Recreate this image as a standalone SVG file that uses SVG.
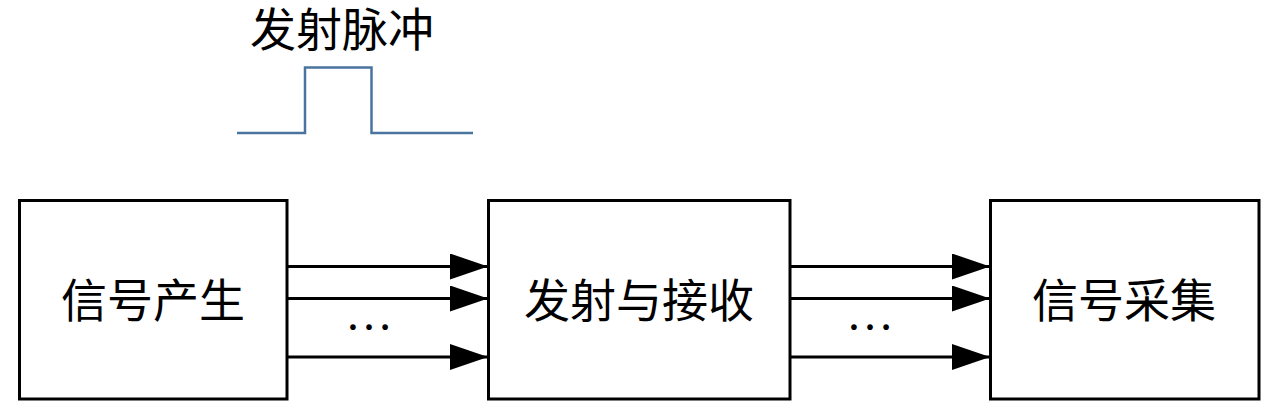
<svg xmlns="http://www.w3.org/2000/svg" width="1280" height="404" viewBox="0 0 1280 404">
<style>
.box{fill:#fff;stroke:#000;stroke-width:3}
.lbl{font-family:"Liberation Serif","Noto Sans CJK SC",serif;font-size:46px;fill:#000;text-anchor:middle}
.conn{stroke:#000;stroke-width:3;fill:none}
.dots{font-family:"Liberation Serif",serif;font-size:48px;fill:#000;text-anchor:middle}
</style>
<defs>
<marker id="arr" markerUnits="userSpaceOnUse" markerWidth="38" markerHeight="26" refX="38" refY="13" orient="auto">
<path d="M0,0 L38,13 L0,26 Z" fill="#000"/>
</marker>
</defs>
<rect width="1280" height="404" fill="#fff"/>
<g id="pulse">
<text class="lbl" x="342" y="46">发射脉冲</text>
<polyline points="237,133 305,133 305,67.5 371.5,67.5 371.5,133 473,133" fill="none" stroke="#4a74a0" stroke-width="2.5"/>
</g>
<g id="gen">
<rect class="box" x="19.5" y="200.5" width="267.5" height="198.5"/>
<text class="lbl" x="153" y="317">信号产生</text>
</g>
<g id="txrx">
<rect class="box" x="488.5" y="200.5" width="301.5" height="198.5"/>
<text class="lbl" x="639" y="317">发射与接收</text>
</g>
<g id="acq">
<rect class="box" x="990.5" y="200.5" width="268.5" height="198.5"/>
<text class="lbl" x="1124" y="317">信号采集</text>
</g>
<g id="connectors">
<line class="conn" x1="287" y1="266.5" x2="488" y2="266.5" marker-end="url(#arr)"/>
<line class="conn" x1="287" y1="298.5" x2="488" y2="298.5" marker-end="url(#arr)"/>
<line class="conn" x1="287" y1="357" x2="488" y2="357" marker-end="url(#arr)"/>
<line class="conn" x1="790" y1="266.5" x2="990" y2="266.5" marker-end="url(#arr)"/>
<line class="conn" x1="790" y1="298.5" x2="990" y2="298.5" marker-end="url(#arr)"/>
<line class="conn" x1="790" y1="357" x2="990" y2="357" marker-end="url(#arr)"/>
<text class="dots" x="369" y="330">…</text>
<text class="dots" x="870" y="330">…</text>
</g>
</svg>
